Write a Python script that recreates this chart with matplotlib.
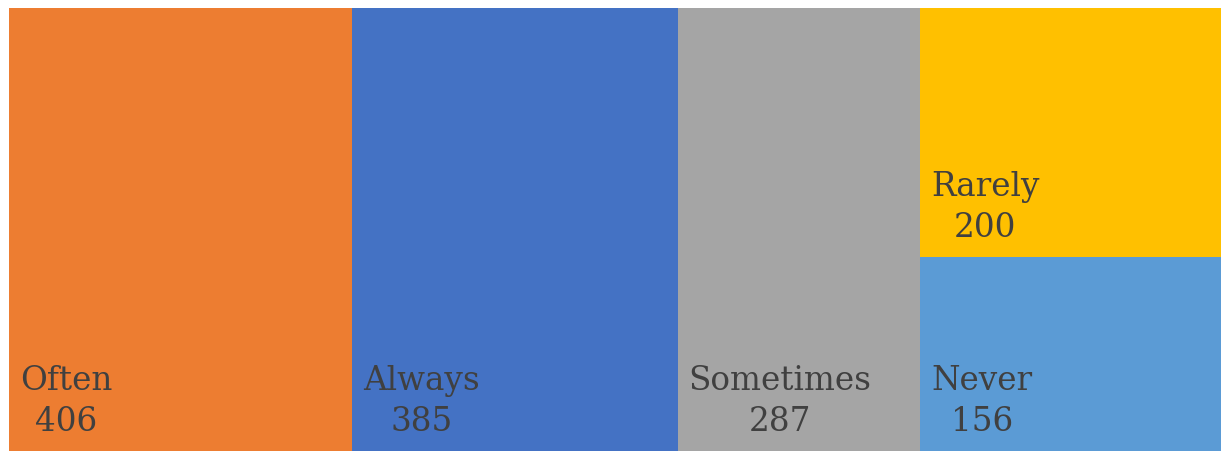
import matplotlib
matplotlib.use("Agg")
import matplotlib.pyplot as plt
from matplotlib.patches import Rectangle

# data
labels = ["Often", "Always", "Sometimes", "Rarely", "Never"]
values = [406, 385, 287, 200, 156]
colors = ["#ED7D31", "#4472C4", "#A5A5A5", "#FFC000", "#5B9BD5"]

fig = plt.figure(figsize=(12.32, 4.59), dpi=100)
ax = fig.add_axes([9 / 1232, 8 / 459, 1212 / 1232, 443 / 459])
total = sum(values)
ax.set_xlim(0, total)
ax.set_ylim(0, 1)
ax.axis("off")

# layout: first three as full-height columns, last two stacked in one column
rects = []
x = 0
for v in values[:3]:
    rects.append((x, 0, v, 1))
    x += v
col_w = values[3] + values[4]
y_never = values[4] / col_w
rects.append((x, y_never, col_w, 1 - y_never))  # Rarely on top
rects.append((x, 0, col_w, y_never))            # Never at bottom

for (rx, ry, rw, rh), lab, val, c in zip(rects, labels, values, colors):
    ax.add_patch(Rectangle((rx, ry), rw, rh, facecolor=c, edgecolor="white", linewidth=0))
    ax.annotate(f"{lab}\n{val}", xy=(rx, ry), xytext=(11, 13), textcoords="offset pixels",
                ha="left", va="bottom", multialignment="center",
                fontsize=23.5, color="#404040", family="DejaVu Serif",
                linespacing=1.35)

fig.savefig("out.png", dpi=100)
